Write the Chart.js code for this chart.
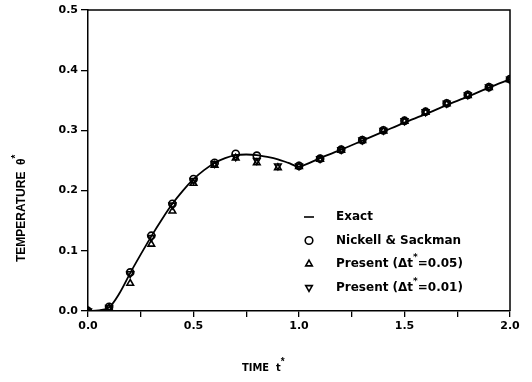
<!DOCTYPE html>
<html><head><meta charset="utf-8">
<script src="https://cdn.jsdelivr.net/npm/chart.js@4/dist/chart.umd.min.js"></script>
<style>html,body{margin:0;padding:0;background:#fff}#wrap{width:532px;height:382px}</style>
</head><body><div id="wrap"><canvas id="c" width="532" height="382"></canvas></div>
<script>
// ---- data ----
const exactTime  = [0,0.05,0.1,0.15,0.2,0.25,0.3,0.35,0.4,0.45,0.5,0.55,0.6,0.65,0.7,0.75,0.8,0.85,0.9,0.95,1.0,1.1,1.2,1.3,1.4,1.5,1.6,1.7,1.8,1.9,2.0];
const exactTheta = [0,0.001,0.006,0.03,0.063,0.094,0.124,0.152,0.178,0.200,0.219,0.234,0.246,0.254,0.259,0.260,0.259,0.256,0.252,0.246,0.240,0.254,0.268,0.283,0.298,0.313,0.327,0.342,0.356,0.371,0.385];
const pointTime  = [0,0.1,0.2,0.3,0.4,0.5,0.6,0.7,0.8,0.9,1.0,1.1,1.2,1.3,1.4,1.5,1.6,1.7,1.8,1.9,2.0];
const nickell    = [0,0.007,0.064,0.125,0.178,0.219,0.246,0.261,0.258,null,0.241,0.253,0.268,0.284,0.300,0.316,0.331,0.345,0.359,0.372,0.385];
const present05  = [0,0.005,0.046,0.111,0.166,0.212,0.242,0.254,0.246,0.238,0.240,0.252,0.267,0.283,0.299,0.315,0.330,0.344,0.358,0.371,0.384];
const present01  = [0,0.006,0.062,0.122,0.176,0.217,0.245,0.256,0.250,0.241,0.241,0.253,0.268,0.284,0.300,0.316,0.331,0.345,0.359,0.372,0.385];
const seriesLabels = ['Exact','Nickell & Sackman','Present (\u0394t*=0.05)','Present (\u0394t*=0.01)'];
const xTickLabels = ['0.0','0.5','1.0','1.5','2.0'];
const yTickLabels = ['0.0','0.1','0.2','0.3','0.4','0.5'];
const xTitle = 'TIME  t*';
const yTitle = 'TEMPERATURE  \u03b8*';

const pts = (xs, ys) => xs.map((x,i)=>({x:x,y:ys[i]})).filter(p=>p.y!==null);
const TICKFONT = {family:'"DejaVu Sans", sans-serif', size:11, weight:'bold'};

// draw text where '*' is a small raised star
function drawStarText(ctx, text, x, y, font, starFont){
  const parts = text.split('*');
  let cx = x;
  parts.forEach((p,i)=>{
    ctx.font = font; ctx.fillText(p, cx, y); cx += ctx.measureText(p).width;
    if(i < parts.length-1){
      ctx.font = starFont; ctx.fillText('*', cx, y-6); cx += ctx.measureText('*').width;
    }
  });
}

const decor = {
  id:'decor',
  afterDatasetsDraw(chart){
    const ctx = chart.ctx, a = chart.chartArea;
    ctx.save();
    ctx.strokeStyle = '#000'; ctx.lineWidth = 1.5;
    ctx.beginPath();
    ctx.moveTo(a.left, a.top); ctx.lineTo(a.right, a.top); ctx.lineTo(a.right, a.bottom);
    ctx.stroke();
    // legend
    const lx = 309, tx = 336, y0 = 217, dy = 23.5;
    ctx.textBaseline = 'middle'; ctx.textAlign = 'left';
    chart.data.datasets.forEach((ds,i)=>{
      const y = y0 + i*dy;
      ctx.lineWidth = 1.6; ctx.strokeStyle = '#000';
      if(i===0){ ctx.beginPath(); ctx.moveTo(lx-5,y); ctx.lineTo(lx+5,y); ctx.stroke(); }
      else {
        ctx.fillStyle = 'rgba(0,0,0,0)';
        Chart.helpers.drawPoint(ctx, {pointStyle: ds.pointStyle, radius: 3.8, rotation: ds.rotation||0, borderWidth:1.6}, lx, y);
      }
      ctx.fillStyle = '#000';
      drawStarText(ctx, ds.label, tx, y, 'bold 12px "DejaVu Sans", sans-serif', 'bold 9px "DejaVu Sans", sans-serif');
    });
    // axis titles
    ctx.fillStyle = '#000';
    ctx.save();
    ctx.translate(22, 262); ctx.rotate(-Math.PI/2);
    drawStarText(ctx, yTitle, 0, 0, 'bold 12px "Liberation Sans", sans-serif', 'bold 10px "Liberation Sans", sans-serif');
    ctx.restore();
    drawStarText(ctx, xTitle, 242, 368, 'bold 11px "Liberation Sans Narrow", "DejaVu Sans Condensed", sans-serif', 'bold 10px "Liberation Sans", sans-serif');
    ctx.restore();
  }
};

new Chart(document.getElementById('c'), {
  type:'scatter',
  data:{datasets:[
    {label:seriesLabels[0], data:pts(exactTime, exactTheta), showLine:true, borderColor:'#000', borderWidth:1.8, pointRadius:0, tension:0.3, order:0},
    {label:seriesLabels[1], data:pts(pointTime, nickell), pointStyle:'circle', pointRadius:3.6, borderColor:'#000', backgroundColor:'rgba(0,0,0,0)', borderWidth:1.6},
    {label:seriesLabels[2], data:pts(pointTime, present05), pointStyle:'triangle', pointRadius:3.8, borderColor:'#000', backgroundColor:'rgba(0,0,0,0)', borderWidth:1.6},
    {label:seriesLabels[3], data:pts(pointTime, present01), pointStyle:'triangle', rotation:180, pointRotation:180, pointRadius:3.8, borderColor:'#000', backgroundColor:'rgba(0,0,0,0)', borderWidth:1.6}
  ]},
  options:{
    responsive:false, animation:false, devicePixelRatio:1,
    layout:{padding:{top:10,right:22,left:0,bottom:0}},
    plugins:{legend:{display:false}, tooltip:{enabled:false}},
    scales:{
      x:{type:'linear', min:0, max:2,
         afterFit(s){ s.height = 71; },
         afterBuildTicks(s){ s.ticks = [0,0.25,0.5,0.75,1,1.25,1.5,1.75,2].map(v=>({value:v})); },
         ticks:{color:'#000', font:TICKFONT, padding:3, maxRotation:0, autoSkip:false,
           callback:(v)=>{ const k = Math.round(v*2); return Math.abs(v*2-k)<1e-6 ? xTickLabels[k] : ''; }},
         grid:{drawOnChartArea:false, color:'#000', tickLength:6, lineWidth:1.3},
         border:{color:'#000', width:1.5}},
      y:{type:'linear', min:0, max:0.5,
         afterFit(s){ s.width = 88; },
         afterBuildTicks(s){ s.ticks = [0,0.1,0.2,0.3,0.4,0.5].map(v=>({value:v})); },
         ticks:{color:'#000', font:TICKFONT, padding:3,
           callback:(v)=>yTickLabels[Math.round(v*10)]},
         grid:{drawOnChartArea:false, color:'#000', tickLength:7, lineWidth:1.3},
         border:{color:'#000', width:1.5}}
    }
  },
  plugins:[decor]
});
</script></body></html>
